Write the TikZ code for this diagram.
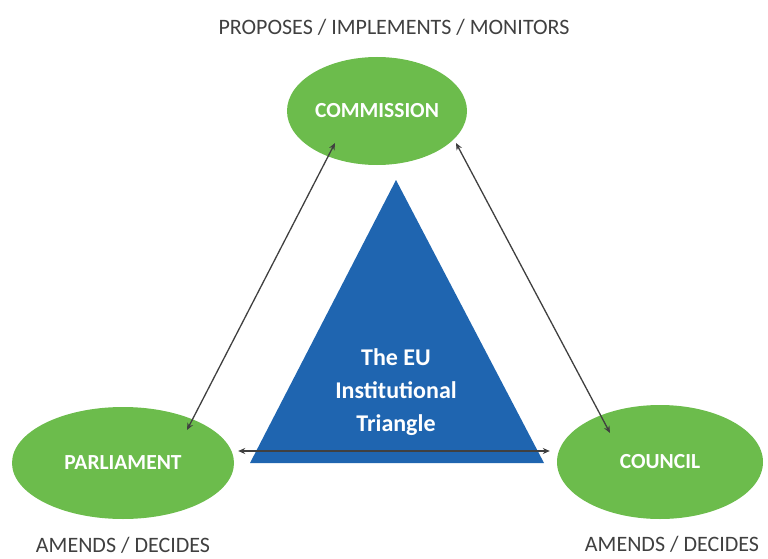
\documentclass[tikz,border=0pt]{standalone}
\usepackage{fontspec}
\setmainfont{Carlito}
\usetikzlibrary{shapes.geometric, arrows.meta, calc}
\definecolor{verdeInst}{RGB}{108, 188, 76}
\definecolor{azulTri}{RGB}{31, 101, 176}
\definecolor{grisTexto}{RGB}{64, 64, 64}

\begin{document}
\begin{tikzpicture}[x=1pt, y=-1pt,
            inst/.style={ellipse, fill=verdeInst, inner sep=0pt, text=white, font=\fontsize{21.5}{25}\selectfont\bfseries},
            papel/.style={text=grisTexto, inner sep=0pt, font=\fontsize{22}{26}\selectfont},
            enlace/.style={{Stealth[length=7pt, width=6pt]}-{Stealth[length=7pt, width=6pt]}, line width=1.3pt, black!75}]

            \useasboundingbox (0,0) rectangle (768,559);

            \fill[azulTri] (396,180) -- (544,463) -- (250,463) -- cycle;
            \node[text=white, align=center, inner sep=0pt, font=\fontsize{24}{33}\selectfont\bfseries] (tri) at (396,392) {The EU\\Institutional\\Triangle};

            \node[inst, minimum width=180pt, minimum height=108pt] (com) at (377,111) {COMMISSION};
            \node[inst, minimum width=222pt, minimum height=112pt] (par) at (123,463) {PARLIAMENT};
            \node[inst, minimum width=206pt, minimum height=114pt] (cou) at (660,462) {COUNCIL};

            \node[papel] (rolCom) at (394,27) {PROPOSES / IMPLEMENTS / MONITORS};
            \node[papel] (rolPar) at (123,545) {AMENDS / DECIDES};
            \node[papel] (rolCou) at (672,544) {AMENDS / DECIDES};

            \coordinate (comIzq) at ($(com.center)+(-42,32)$);
            \coordinate (comDer) at ($(com.center)+(79,32)$);
            \coordinate (parArr) at ($(par.center)+(64,-33)$);
            \coordinate (parDer) at ($(par.east)+(4,-12)$);
            \coordinate (couArr) at ($(cou.center)+(-50,-29)$);
            \coordinate (couIzq) at ($(cou.west)+(-7,-11)$);

            \draw[enlace] (comIzq) -- (parArr);
            \draw[enlace] (comDer) -- (couArr);
            \draw[enlace] (parDer) -- (couIzq);
        \end{tikzpicture}
\end{document}
